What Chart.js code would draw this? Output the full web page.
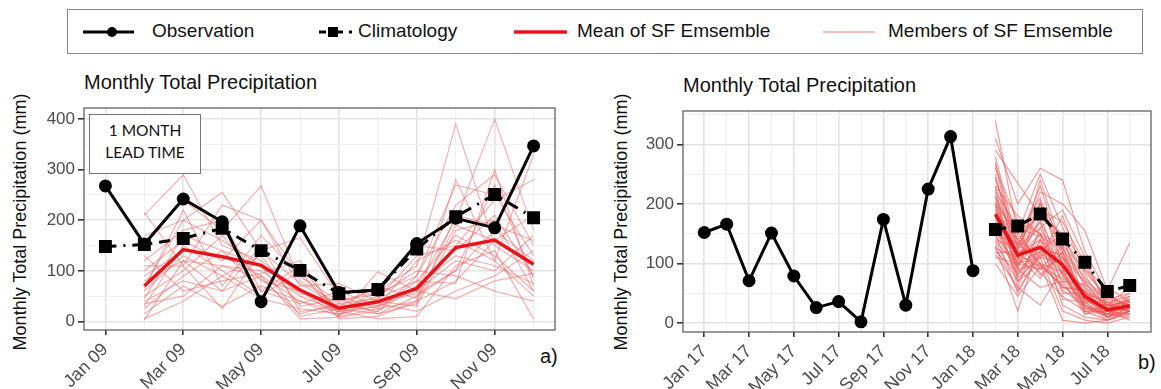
<!DOCTYPE html>
<html>
<head>
<meta charset="utf-8">
<script src="https://cdn.jsdelivr.net/npm/chart.js@4.4.1/dist/chart.umd.min.js"></script>
<style>
  body { margin: 0; background: #fff; width: 1161px; height: 389px; position: relative; overflow: hidden;
         font-family: "Liberation Sans", Arial, sans-serif; }
  canvas { position: absolute; }
  .lbl { position: absolute; white-space: nowrap; color: #111; }
  .ttl { font-size: 20px; line-height: 20px; }
  .ytitle { font-size: 18px; transform: translate(-50%, -50%) rotate(-90deg); }
  #legend { position: absolute; left: 67px; top: 9px; width: 1074px; height: 43px; border: 1px solid #888; }
  #legend span { position: absolute; font-size: 19px; line-height: 20px; top: 11px; color: #111; }
  #lead { position: absolute; left: 89px; top: 114px; width: 110px; height: 54px; border: 1px solid #777;
          background: #fff; font-family: Lato, "Open Sans", sans-serif; font-size: 15.5px; line-height: 22px;
          text-align: center; padding-top: 4px; box-sizing: content-box; color: #111; }
</style>
</head>
<body>
<div id="legend">
  <svg width="1074" height="43" style="position:absolute;left:0;top:0">
    <line x1="15" y1="22" x2="66" y2="22" stroke="#000" stroke-width="3"/>
    <circle cx="44" cy="22" r="5" fill="#000"/>
    <line x1="251" y1="22" x2="258" y2="22" stroke="#000" stroke-width="3"/>
    <rect x="260" y="17" width="10" height="10" fill="#000"/>
    <line x1="270" y1="22" x2="275" y2="22" stroke="#000" stroke-width="3"/>
    <line x1="281" y1="22" x2="284" y2="22" stroke="#000" stroke-width="3"/>
    <line x1="446" y1="22" x2="499" y2="22" stroke="#e8141a" stroke-width="3.5"/>
    <line x1="755" y1="22" x2="807" y2="22" stroke="rgba(236,110,110,0.6)" stroke-width="1.3"/>
  </svg>
  <span style="left:84px">Observation</span>
  <span style="left:290px">Climatology</span>
  <span style="left:509px">Mean of SF Emsemble</span>
  <span style="left:820px">Members of SF Emsemble</span>
</div>

<div class="lbl ttl" style="left:84px;top:72px">Monthly Total Precipitation</div>
<div class="lbl ttl" style="left:683px;top:75px">Monthly Total Precipitation</div>
<div class="lbl ytitle" style="left:20px;top:222px">Monthly Total Precipitation (mm)</div>
<div class="lbl ytitle" style="left:621px;top:222px">Monthly Total Precipitation (mm)</div>
<div class="lbl" style="left:540px;top:345px;font-size:20px">a)</div>
<div class="lbl" style="left:1138px;top:351px;font-size:20px">b)</div>

<canvas id="chartA" width="580" height="329" style="left:0;top:60px"></canvas>
<canvas id="chartB" width="581" height="329" style="left:580px;top:60px"></canvas>
<div id="lead">1 MONTH<br>LEAD TIME</div>

<script>
// ---- panel a : 2009, 1 month lead time ----
const monthsA = ['Jan 09','Feb 09','Mar 09','Apr 09','May 09','Jun 09','Jul 09','Aug 09','Sep 09','Oct 09','Nov 09','Dec 09'];
const obsA  = [268, 153, 242, 197, 39, 189, 57, 62, 154, 204, 185, 347];
const climA = [148, 152, 164, 184, 140, 101, 55, 63, 143, 207, 251, 205];
const meanA = [70, 142, 128, 111, 62, 26, 39, 65, 146, 161, 113];   // Feb 09 .. Dec 09
const membersA = [
    [215, 110, 230, 200, 90, 40, 60, 110, 390, 150, 100],
    [210, 290, 150, 120, 60, 20, 30, 70, 200, 400, 180],
    [170, 200, 255, 140, 165, 50, 25, 40, 280, 120, 330],
    [150, 240, 180, 268, 80, 35, 20, 90, 230, 290, 150],
    [120, 180, 200, 60, 110, 15, 45, 130, 150, 240, 280],
    [100, 160, 120, 200, 70, 75, 40, 30, 180, 200, 60],
    [90, 140, 130, 90, 40, 10, 98, 60, 120, 100, 170],
    [80, 120, 110, 100, 50, 20, 60, 150, 140, 210, 90],
    [60, 130, 90, 130, 30, 45, 15, 50, 100, 180, 120],
    [50, 100, 170, 80, 60, 10, 25, 80, 170, 130, 60],
    [40, 80, 60, 150, 20, 30, 35, 20, 60, 90, 140],
    [30, 150, 100, 50, 100, 5, 10, 40, 80, 160, 110],
    [25, 90, 140, 110, 10, 25, 50, 100, 90, 60, 40],
    [15, 70, 30, 70, 40, 20, 5, 10, 110, 140, 5],
    [5, 40, 90, 45, 25, 15, 30, 60, 45, 80, 95],
    [3, 120, 60, 90, 5, 8, 20, 70, 130, 110, 75],
    [70, 200, 160, 110, 55, 40, 55, 90, 270, 250, 130],
    [110, 110, 25, 140, 75, 30, 70, 45, 190, 160, 210],
    [130, 60, 80, 95, 120, 12, 40, 55, 100, 270, 85],
    [45, 170, 140, 60, 35, 60, 30, 120, 160, 120, 50],
    [65, 220, 70, 170, 90, 25, 15, 35, 210, 190, 160],
    [35, 50, 110, 85, 15, 35, 45, 80, 75, 300, 70]
];
const yTicksA = [0, 100, 200, 300, 400];

// ---- panel b : 2017-2018 ----
const monthsB = ['Jan 17','Feb 17','Mar 17','Apr 17','May 17','Jun 17','Jul 17','Aug 17','Sep 17','Oct 17','Nov 17','Dec 17',
                 'Jan 18','Feb 18','Mar 18','Apr 18','May 18','Jun 18','Jul 18','Aug 18'];
const obsB  = [152, 166, 71, 151, 79, 26, 36, 2, 174, 30, 225, 313, 88];   // Jan 17 .. Jan 18
const climB = [157, 163, 183, 141, 102, 53, 63];                            // Feb 18 .. Aug 18
const meanB = [183, 114, 127, 98, 45, 22, 29];                              // Feb 18 .. Aug 18
const membersB = [
    [340, 150, 250, 160, 90, 40, 30],
    [310, 200, 260, 240, 120, 50, 25],
    [290, 235, 180, 150, 70, 20, 40],
    [270, 120, 220, 200, 155, 55, 135],
    [260, 170, 150, 90, 60, 30, 20],
    [250, 90, 200, 120, 40, 15, 30],
    [240, 140, 110, 180, 80, 25, 45],
    [230, 110, 170, 100, 50, 35, 20],
    [220, 160, 90, 130, 30, 10, 25],
    [215, 80, 140, 70, 65, 40, 50],
    [210, 130, 230, 110, 45, 20, 15],
    [205, 100, 120, 150, 35, 30, 35],
    [200, 150, 100, 60, 55, 10, 20],
    [195, 60, 160, 90, 25, 25, 40],
    [190, 120, 130, 110, 70, 45, 30],
    [185, 95, 180, 80, 40, 15, 10],
    [180, 140, 80, 120, 20, 20, 25],
    [175, 110, 150, 50, 50, 35, 45],
    [170, 75, 110, 100, 30, 5, 20],
    [165, 130, 200, 140, 60, 25, 30],
    [160, 90, 60, 70, 15, 20, 15],
    [155, 115, 140, 95, 45, 30, 60],
    [150, 50, 120, 40, 35, 10, 25],
    [145, 100, 90, 110, 25, 15, 35],
    [140, 125, 170, 60, 55, 30, 20],
    [135, 70, 100, 85, 20, 20, 30],
    [130, 20, 140, 30, 10, 5, 15],
    [125, 110, 75, 120, 40, 25, 40],
    [120, 85, 130, 55, 30, 10, 20],
    [115, 60, 30, 90, 15, 30, 25],
    [110, 100, 110, 20, 5, 0, 10],
    [100, 45, 95, 65, 25, 15, 30],
    [230, 180, 150, 130, 90, 60, 35],
    [280, 130, 190, 170, 100, 30, 50],
    [200, 90, 100, 5, 0, 5, 20],
    [180, 150, 210, 100, 40, 20, 5],
    [265, 105, 240, 125, 75, 35, 30],
    [245, 125, 160, 190, 110, 25, 20],
    [225, 70, 120, 85, 45, 10, 40],
    [212, 140, 185, 145, 85, 45, 25],
    [198, 115, 95, 75, 30, 15, 15],
    [178, 160, 145, 125, 65, 30, 35],
    [168, 100, 205, 95, 50, 20, 25],
    [158, 80, 125, 115, 35, 10, 30],
    [148, 135, 100, 60, 40, 25, 20],
    [138, 95, 150, 80, 30, 15, 45],
    [128, 55, 115, 100, 55, 20, 30],
    [118, 120, 85, 45, 20, 5, 20]
];
const yTicksB = [0, 100, 200, 300];

const MAJOR = '#e3e3e3', MINOR = '#f0f0f0';
const FONT = '"Liberation Sans", Arial, sans-serif';

// draws the grey frame round the panel, like theme_bw
const frame = {
    id: 'frame',
    afterDraw(chart) {
        const a = chart.chartArea, ctx = chart.ctx;
        ctx.save();
        ctx.strokeStyle = '#555';
        ctx.lineWidth = 1.2;
        ctx.strokeRect(a.left, a.top, a.right - a.left, a.bottom - a.top);
        ctx.restore();
    }
};

function pts(vals, start) {
    return vals.map((v, i) => ({x: start + i, y: v}));
}

function makePanel(id, p) {
    const datasets = [
        {data: pts(p.obs, 0), borderColor: '#000', backgroundColor: '#000', borderWidth: 3,
         pointRadius: 5, pointStyle: 'circle', order: 0},
        {data: pts(p.clim, p.climStart), borderColor: '#000', backgroundColor: '#000', borderWidth: 3,
         borderDash: [11, 7, 2, 7], pointRadius: 7, pointStyle: 'rect', order: 1},
        {data: pts(p.mean, p.fcStart), borderColor: '#e8141a', borderWidth: 3.5, pointRadius: 0, order: 2}
    ];
    p.members.forEach(m => datasets.push({
        data: pts(m, p.fcStart), borderColor: p.memberColor, borderWidth: 1.2,
        pointRadius: 0, order: 3
    }));

    const xIdx = p.months.map((m, i) => i);
    const yAll = [];
    for (let v = 0; v <= p.yTop; v += 50) yAll.push(v);

    return new Chart(document.getElementById(id), {
        type: 'line',
        data: {datasets: datasets},
        plugins: [frame],
        options: {
            responsive: false,
            animation: false,
            layout: {padding: p.pad},
            plugins: {legend: {display: false}, tooltip: {enabled: false}},
            scales: {
                x: {
                    type: 'linear', min: p.xMin, max: p.xMax,
                    afterBuildTicks: s => { s.ticks = xIdx.map(v => ({value: v})); },
                    afterFit: s => { s.height = p.xH; },
                    border: {display: false},
                    grid: {
                        color: c => c.tick && c.tick.value % 2 === 0 ? MAJOR : MINOR,
                        lineWidth: c => c.tick && c.tick.value % 2 === 0 ? 1.6 : 1,
                        tickColor: c => c.tick && c.tick.value % 2 === 0 ? '#333' : 'rgba(0,0,0,0)',
                        tickLength: 5
                    },
                    ticks: {
                        autoSkip: false, minRotation: 45, maxRotation: 45, padding: 4,
                        color: '#4d4d4d', font: {family: FONT, size: 18},
                        callback: v => v % 2 === 0 ? p.months[v] : ''
                    }
                },
                y: {
                    min: p.yMin, max: p.yMax,
                    afterBuildTicks: s => { s.ticks = yAll.map(v => ({value: v})); },
                    afterFit: s => { s.width = p.yW; },
                    border: {display: false},
                    grid: {
                        color: c => c.tick && p.yTicks.includes(c.tick.value) ? MAJOR : MINOR,
                        lineWidth: c => c.tick && p.yTicks.includes(c.tick.value) ? 1.6 : 1,
                        tickColor: c => c.tick && p.yTicks.includes(c.tick.value) ? '#333' : 'rgba(0,0,0,0)',
                        tickLength: 6
                    },
                    ticks: {
                        padding: 3, color: '#4d4d4d', font: {family: FONT, size: 17},
                        callback: v => p.yTicks.includes(v) ? String(v) : ''
                    }
                }
            }
        }
    });
}

makePanel('chartA', {
    months: monthsA, obs: obsA, clim: climA, climStart: 0, mean: meanA, members: membersA, fcStart: 1,
    memberColor: 'rgba(236,100,100,0.5)',
    yTicks: yTicksA, yTop: 400, xMin: -0.55, xMax: 11.55, yMin: -17, yMax: 422,
    pad: {top: 48, left: 0, right: 25, bottom: 0}, yW: 84, xH: 59
});

makePanel('chartB', {
    months: monthsB, obs: obsB, clim: climB, climStart: 13, mean: meanB, members: membersB, fcStart: 13,
    memberColor: 'rgba(238,95,95,0.62)',
    yTicks: yTicksB, yTop: 350, xMin: -0.95, xMax: 19.95, yMin: -15, yMax: 356,
    pad: {top: 51, left: 0, right: 8, bottom: 0}, yW: 103, xH: 57
});
</script>
</body>
</html>
